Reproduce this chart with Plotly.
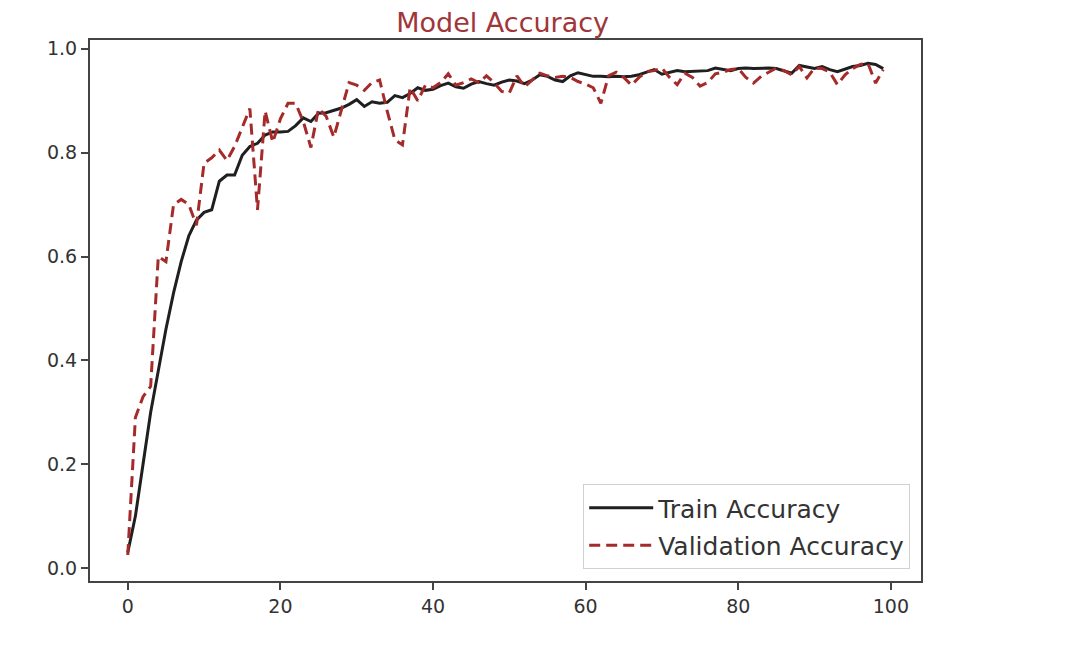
import plotly.graph_objects as go

epochs = list(range(100))

train_acc = [
    0.030, 0.100, 0.200, 0.300, 0.380, 0.460, 0.530, 0.590, 0.640, 0.670,
    0.685, 0.690, 0.745, 0.757, 0.757, 0.795, 0.812, 0.818, 0.834, 0.840,
    0.840, 0.841, 0.852, 0.867, 0.860, 0.876, 0.877, 0.882, 0.886, 0.893,
    0.902, 0.889, 0.898, 0.895, 0.897, 0.910, 0.906, 0.914, 0.925, 0.920,
    0.922, 0.929, 0.934, 0.927, 0.924, 0.932, 0.937, 0.933, 0.930, 0.936,
    0.940, 0.938, 0.933, 0.940, 0.950, 0.947, 0.940, 0.937, 0.948, 0.954,
    0.950, 0.947, 0.947, 0.946, 0.947, 0.946, 0.947, 0.950, 0.955, 0.960,
    0.951, 0.955, 0.958, 0.956, 0.957, 0.957, 0.958, 0.963, 0.961, 0.958,
    0.962, 0.963, 0.962, 0.963, 0.963, 0.962, 0.957, 0.953, 0.968, 0.965,
    0.962, 0.966, 0.960, 0.956, 0.961, 0.966, 0.968, 0.972, 0.970, 0.962,
]

val_acc = [
    0.025, 0.290, 0.330, 0.350, 0.600, 0.590, 0.700, 0.710, 0.700, 0.660,
    0.780, 0.790, 0.805, 0.785, 0.812, 0.850, 0.885, 0.690, 0.880, 0.820,
    0.865, 0.895, 0.895, 0.860, 0.810, 0.885, 0.870, 0.830, 0.880, 0.935,
    0.930, 0.920, 0.935, 0.940, 0.880, 0.825, 0.815, 0.925, 0.900, 0.930,
    0.925, 0.935, 0.952, 0.930, 0.935, 0.942, 0.935, 0.948, 0.935, 0.918,
    0.915, 0.948, 0.927, 0.940, 0.953, 0.948, 0.945, 0.947, 0.945, 0.937,
    0.932, 0.925, 0.895, 0.948, 0.955, 0.945, 0.930, 0.945, 0.956, 0.958,
    0.963, 0.945, 0.931, 0.953, 0.945, 0.928, 0.935, 0.952, 0.955, 0.960,
    0.962, 0.945, 0.934, 0.947, 0.955, 0.963, 0.958, 0.950, 0.966, 0.944,
    0.963, 0.962, 0.955, 0.931, 0.950, 0.962, 0.970, 0.972, 0.934, 0.960,
]

x_ticks = [0, 20, 40, 60, 80, 100]
y_ticks = [0.0, 0.2, 0.4, 0.6, 0.8, 1.0]
y_tick_labels = ["0.0", "0.2", "0.4", "0.6", "0.8", "1.0"]

fig = go.Figure()
fig.add_trace(go.Scatter(
    x=epochs, y=train_acc, mode="lines", name="Train Accuracy",
    legendgroup="a",
    line=dict(color="#1f1f1f", width=3),
))
fig.add_trace(go.Scatter(
    x=epochs, y=val_acc, mode="lines", name="Validation Accuracy",
    legendgroup="b",
    line=dict(color="#a52a2a", width=3, dash="11px,6px"),
))

axis_common = dict(
    showgrid=False, zeroline=False, showline=True, mirror=True,
    linecolor="#444444", linewidth=2, ticks="outside", ticklen=7,
    tickwidth=1.5, tickcolor="#444444",
    tickfont=dict(family="DejaVu Sans", size=19, color="#333333"),
)

fig.update_layout(
    width=1080, height=649,
    margin=dict(l=82, r=167, t=32, b=76),
    paper_bgcolor="white", plot_bgcolor="white",
    title=dict(text="Model Accuracy", x=0.458, xanchor="center", y=0.992, yanchor="top",
               font=dict(family="DejaVu Sans", size=27, color="#a0353a")),
    xaxis=dict(range=[-4.95, 103.95], tickvals=x_ticks, **axis_common),
    yaxis=dict(range=[-0.025, 1.017], tickvals=y_ticks, ticktext=y_tick_labels, **axis_common),
    legend=dict(
        x=0.987, y=0.022, xanchor="right", yanchor="bottom",
        bgcolor="white", bordercolor="#d0d0d0", borderwidth=1,
        font=dict(family="DejaVu Sans", size=25, color="#333333"),
        itemwidth=64, tracegroupgap=2, traceorder="grouped",
    ),
    showlegend=True,
)

fig.write_html("out.html")
